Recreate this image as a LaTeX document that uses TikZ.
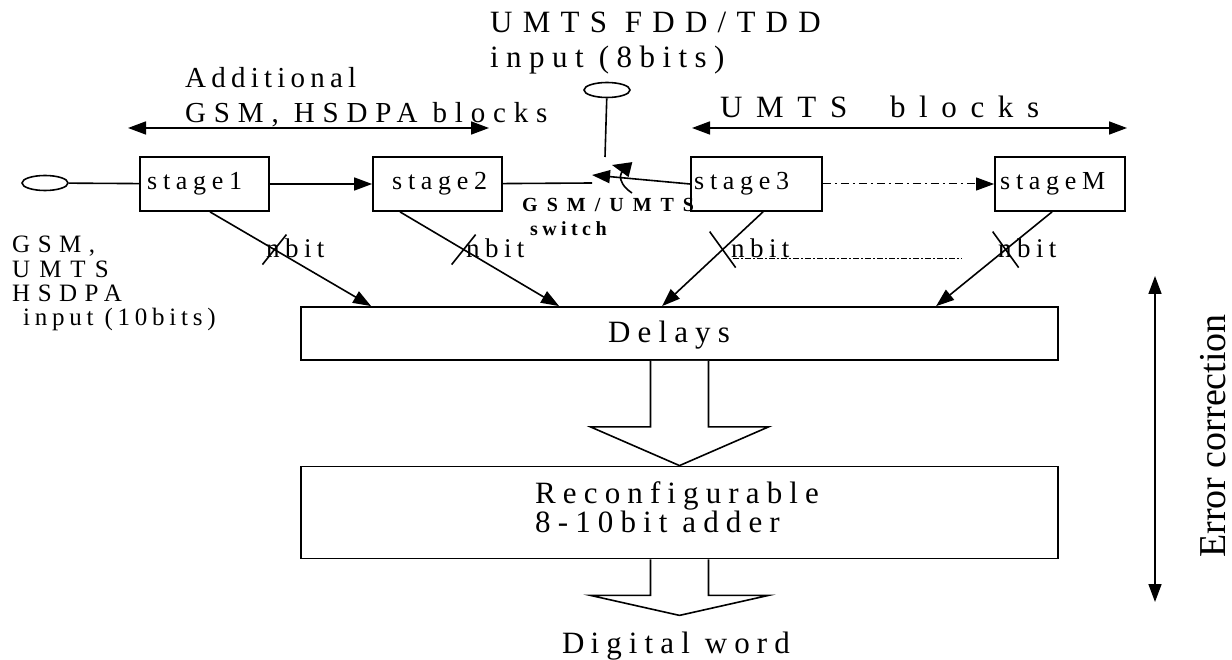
\documentclass[tikz,border=0pt]{standalone}
\usepackage{fontspec}
\setmainfont{Liberation Serif}
\usetikzlibrary{arrows.meta,calc,shapes.geometric}
% spaced text: #1 = size, #2 = tracking (percent of size)
\newcommand\trk[2]{\fontsize{#1}{#1}\selectfont\addfontfeature{LetterSpace=#2}}
\begin{document}
\begin{tikzpicture}[x=1pt,y=-1pt,
  box/.style={draw, line width=1.8pt, inner sep=0},
  conn/.style={line width=1.6pt},
  tip/.tip={Triangle[length=18pt,width=13pt]},
  arr/.style={conn, -tip},
  dbl/.style={conn, tip-tip},
  port/.style={draw, ellipse, line width=1.6pt, inner sep=0, minimum width=46pt, minimum height=15pt},
  txt/.style={inner sep=0, anchor=base west},
  stagetxt/.style={txt, font=\trk{26}{22}},
  bigtxt/.style={txt, font=\trk{31}{23}},
  toptxt/.style={txt, font=\trk{30}{26}},
  bittxt/.style={txt, font=\trk{27}{20}},
  swtxt/.style={txt, font=\bfseries\trk{20}{45}},
]
\useasboundingbox (0,0) rectangle (1232,660);

% ---- input ports ----
\node[port] (in1) at (45,183) {};
\node[port] (in2) at (607,90) {};

% ---- pipeline stages ----
\node[box, minimum width=129pt, minimum height=54pt] (s1) at (204.5,184) {};
\node[box, minimum width=129pt, minimum height=54pt] (s2) at (437.5,184) {};
\node[box, minimum width=131pt, minimum height=54pt] (s3) at (756.5,184) {};
\node[box, minimum width=130pt, minimum height=54pt] (s4) at (1060,184) {};
\node[stagetxt] (t1) at (147,190) {stage1};
\node[stagetxt] (t2) at (392,190) {stage2};
\node[stagetxt] (t3) at (694,190) {stage3};
\node[stagetxt] (t4) at (1000,190) {stageM};

% ---- delays and adder ----
\node[box, minimum width=757pt, minimum height=53pt] (dl) at (679.5,333.5) {};
\node[box, minimum width=757pt, minimum height=92pt] (ad) at (679.5,512.5) {};
\node[bigtxt] (tdl) at (608,343) {Delays};
\node[inner sep=0, anchor=north west, align=left,
      font=\fontsize{31}{25}\selectfont\addfontfeature{LetterSpace=23}] (tad) at (535,481)
  {Reconfigurable\\8-10bit adder};
\node[bigtxt] (tout) at (562,653) {D\hspace{6pt}igital word};

% ---- labels ----
\node[toptxt, font=\trk{31}{33}] (lu1) at (490,33) {UMTS FDD/TDD};
\node[toptxt, font=\trk{31}{24}] (lu2) at (490,68) {input (8bits)};
\node[toptxt, font=\trk{29}{18}] (la1) at (185,88) {Additional};
\node[toptxt, font=\trk{29}{27}] (la2) at (185,123) {GSM, HSDPA blocks};
\node[toptxt, font=\trk{31}{44}] (lb) at (720,118) {UMTS\ \ blocks};
\node[inner sep=0, anchor=north west, align=left,
      font=\fontsize{25}{24.3}\selectfont\addfontfeature{LetterSpace=30}] (lg) at (12,236)
  {GSM,\\\addfontfeature{LetterSpace=36}UMTS\\HSDPA\\\addfontfeature{LetterSpace=19}\ input (10bits)};
\node[swtxt] (lsw1) at (522,212) {GSM/UMTS};
\node[swtxt, font=\bfseries\trk{20}{22}] (lsw2) at (530,236) {switch};

% ---- block ranges ----
\coordinate (ra1) at (128,128);
\coordinate (ra2) at (489,128);
\coordinate (rb1) at (692,128);
\coordinate (rb2) at (1127,128);
\draw[dbl] (ra1) -- (ra2);
\draw[dbl] (rb1) -- (rb2);

% ---- signal chain and switch ----
\draw[conn] (in1) -- (s1);
\draw[arr] (s1) -- (s2);
\coordinate (swin) at (592,183);
\coordinate (swtip) at (592,175);
\coordinate (swtop) at (605,157);
\draw[conn] (s2) -- (swin);
\draw[conn] (in2) -- (swtop);
\draw[arr] (s3.west) -- (swtip);
\coordinate (rotA) at (632,193);
\coordinate (rotB) at (612,165);
\draw[conn, -{Triangle[length=19pt,width=15pt]}] (rotA) .. controls (614,181) and (620,167) .. (rotB);
\draw[arr, line width=1pt, dash pattern=on 8pt off 4pt on 2pt off 4pt] (s3) -- (s4);

% ---- stage outputs to delays ----
\coordinate (o1) at ($(s1.south)+(5.5,0)$);
\coordinate (o2) at ($(s2.south)+(-37.5,0)$);
\coordinate (o3) at ($(s3.south)+(6.5,0)$);
\coordinate (o4) at ($(s4.south)+(-8,0)$);
\coordinate (d1) at ($(dl.north west)+(71,0)$);
\coordinate (d2) at ($(dl.north west)+(259,0)$);
\coordinate (d3) at ($(dl.north west)+(362,0)$);
\coordinate (d4) at ($(dl.north west)+(636,0)$);
\draw[arr] (o1) -- (d1);
\draw[arr] (o2) -- (d2);
\draw[arr] (o3) -- (d3);
\draw[arr] (o4) -- (d4);
% bus width marks
\draw[conn] ($(o1)!0.4!(d1)+(-12,15)$) -- ++(24,-30);
\draw[conn] ($(o2)!0.4!(d2)+(-12,15)$) -- ++(24,-30);
\draw[conn] ($(o3)!0.4!(d3)+(-13,-18)$) -- ++(26,36);
\draw[conn] ($(o4)!0.4!(d4)+(-13,-18)$) -- ++(26,36);
\node[bittxt] (n1) at (266,258) {nbit};
\node[bittxt] (n2) at (466,258) {nbit};
\node[bittxt] (n3) at (731,258) {nbit};
\node[bittxt] (n4) at (998,258) {nbit};
\coordinate (dotA) at (733,259);
\coordinate (dotB) at (962,259);
\draw[line width=1pt, dash pattern=on 6pt off 2pt on 2pt off 2pt] (dotA) -- (dotB);

% ---- wide bus arrows ----
\draw[line width=1.6pt, fill=white]
  ($(dl.south)+(-29,0)$) -- ++(0,66) -- ++(-60,0) -- (ad.north)
  -- ($(dl.south)+(89,66)$) -- ++(-60,0) -- ($(dl.south)+(29,0)$);
\draw[line width=1.6pt, fill=white]
  ($(ad.south)+(-29,0)$) -- ++(0,36) -- ++(-60,0) -- ($(ad.south)+(0,56)$)
  -- ($(ad.south)+(89,36)$) -- ++(-60,0) -- ($(ad.south)+(29,0)$);

% ---- error correction span ----
\coordinate (ec1) at (1155,276);
\coordinate (ec2) at (1155,602);
\draw[dbl] (ec1) -- (ec2);
\node[inner sep=0, rotate=90, font=\fontsize{38}{38}\selectfont] (tec) at (1213,436) {Error correction};
\end{tikzpicture}
\end{document}
